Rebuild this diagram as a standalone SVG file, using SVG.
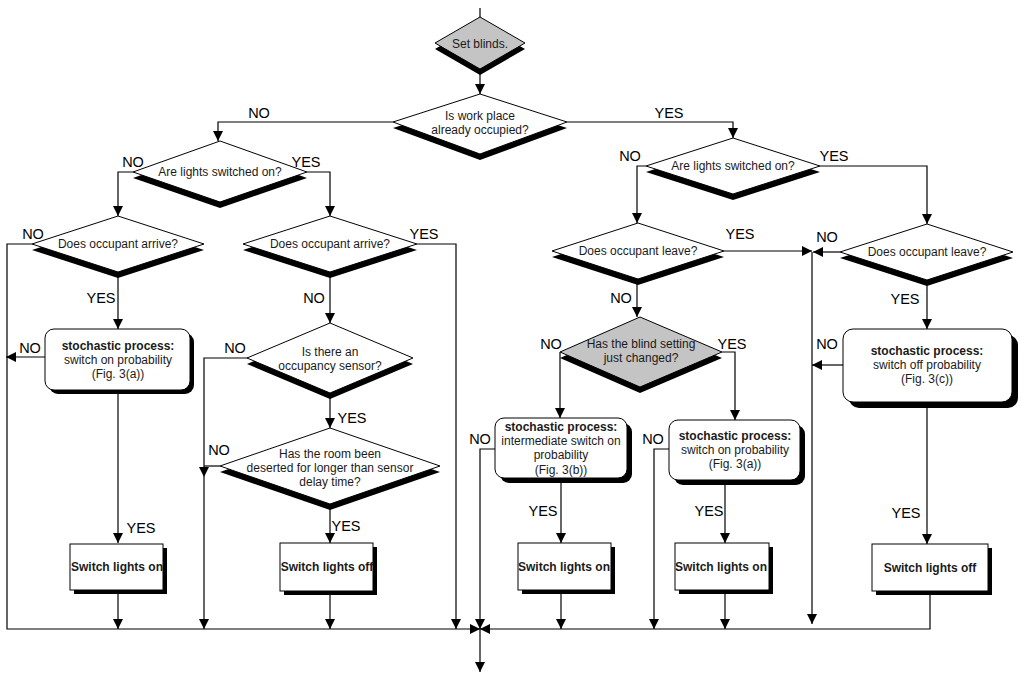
<svg xmlns="http://www.w3.org/2000/svg" width="1022" height="679" viewBox="0 0 1022 679">
<style>
.bg{fill:#ffffff}
.dia{fill:#ffffff;stroke:#000;stroke-width:1}
.gray{fill:#c4c4c4;stroke:#000;stroke-width:1}
.sh{fill:#000;stroke:none}
.box{fill:#ffffff;stroke:#000;stroke-width:1}
.t{font-family:"Liberation Sans",Arial,sans-serif;font-size:12px;fill:#1a1a1a;text-anchor:middle}
.b{font-weight:bold}
.lbl{font-family:"Liberation Sans",Arial,sans-serif;font-size:14.5px;fill:#000;text-anchor:middle}
.c{fill:none;stroke:#000;stroke-width:1.2}
.a{marker-end:url(#ah)}
</style>
<defs>
<marker id="ah" viewBox="0 0 10 10" refX="10" refY="5" markerWidth="10" markerHeight="10" markerUnits="userSpaceOnUse" orient="auto">
<path d="M0,0 L10,5 L0,10 z" fill="#000"/>
</marker>
</defs>
<rect class="bg" x="0" y="0" width="1022" height="679"/>

<g id="connectors">
<path class="c" d="M480,8 V17"/>
<path class="c a" d="M480,69 V94"/>
<path class="c a" d="M393,122 H218 V141"/>
<path class="c a" d="M567,122 H733 V138"/>
<path class="c a" d="M133,172 H118 V216"/>
<path class="c a" d="M307,172 H330 V216"/>
<path class="c a" d="M32,244 H7 V629 H480"/>
<path class="c a" d="M118,272 V329"/>
<path class="c a" d="M45,357 H6"/>
<path class="c a" d="M118,390 V543"/>
<path class="c a" d="M118,590 V629"/>
<path class="c a" d="M417,244 H456 V629"/>
<path class="c a" d="M330,272 V323"/>
<path class="c a" d="M248,358 H204 V477"/>
<path class="c a" d="M204,477 V629"/>
<path class="c" d="M220,466 H204"/>
<path class="c a" d="M330,393 V428"/>
<path class="c a" d="M330,504 V543"/>
<path class="c a" d="M330,591 V629"/>
<path class="c a" d="M646,166 H637 V223"/>
<path class="c a" d="M820,166 H927 V224"/>
<path class="c a" d="M724,251 H812"/>
<path class="c a" d="M840,252 H813"/>
<path class="c a" d="M812,252 V624"/>
<path class="c a" d="M637,279 V317"/>
<path class="c a" d="M560,352 V418"/>
<path class="c a" d="M722,352 H735 V420"/>
<path class="c a" d="M495,449 H480 V629"/>
<path class="c a" d="M561,478 V543"/>
<path class="c a" d="M669,449 H654 V629"/>
<path class="c a" d="M725,480 V543"/>
<path class="c a" d="M561,590 V629"/>
<path class="c a" d="M725,590 V629"/>
<path class="c a" d="M927,280 V329"/>
<path class="c a" d="M843,365 H812"/>
<path class="c a" d="M927,402 V544"/>
<path class="c a" d="M930,591 V629 H480"/>
<path class="c a" d="M480,629 V672"/>
</g>

<g id="labels">
<text class="lbl" x="259" y="118">NO</text>
<text class="lbl" x="669" y="118">YES</text>
<text class="lbl" x="133" y="167">NO</text>
<text class="lbl" x="306" y="167">YES</text>
<text class="lbl" x="33" y="239">NO</text>
<text class="lbl" x="424" y="239">YES</text>
<text class="lbl" x="101" y="303">YES</text>
<text class="lbl" x="314" y="303">NO</text>
<text class="lbl" x="30" y="353">NO</text>
<text class="lbl" x="235" y="353">NO</text>
<text class="lbl" x="352" y="423">YES</text>
<text class="lbl" x="219" y="455">NO</text>
<text class="lbl" x="141" y="533">YES</text>
<text class="lbl" x="346" y="531">YES</text>
<text class="lbl" x="630" y="161">NO</text>
<text class="lbl" x="834" y="161">YES</text>
<text class="lbl" x="740" y="239">YES</text>
<text class="lbl" x="827" y="242">NO</text>
<text class="lbl" x="621" y="303">NO</text>
<text class="lbl" x="905" y="304">YES</text>
<text class="lbl" x="551" y="349">NO</text>
<text class="lbl" x="732" y="349">YES</text>
<text class="lbl" x="827" y="349">NO</text>
<text class="lbl" x="480" y="444">NO</text>
<text class="lbl" x="653" y="444">NO</text>
<text class="lbl" x="543" y="516">YES</text>
<text class="lbl" x="709" y="516">YES</text>
<text class="lbl" x="906" y="518">YES</text>
</g>

<g id="n_set">
<polygon class="sh" points="480,23 525,49 480,75 435,49"/>
<polygon class="gray" points="480,17 525,43 480,69 435,43"/>
<text class="t" x="480" y="48">Set blinds.</text>
</g>

<g id="n_work">
<polygon class="sh" points="480,100 567,128 480,160 393,128"/>
<polygon class="dia" points="480,94 567,122 480,154 393,122"/>
<text class="t" x="480" y="120">Is work place</text>
<text class="t" x="480" y="134">already occupied?</text>
</g>

<g id="n_lightsL">
<polygon class="sh" points="220,147 307,178 220,208 133,178"/>
<polygon class="dia" points="220,141 307,172 220,202 133,172"/>
<text class="t" x="220" y="176">Are lights switched on?</text>
</g>

<g id="n_arriveL">
<polygon class="sh" points="118,222 204,250 118,278 32,250"/>
<polygon class="dia" points="118,216 204,244 118,272 32,244"/>
<text class="t" x="118" y="248">Does occupant arrive?</text>
</g>

<g id="n_arriveR">
<polygon class="sh" points="330,222 417,250 330,278 243,250"/>
<polygon class="dia" points="330,216 417,244 330,272 243,244"/>
<text class="t" x="330" y="248">Does occupant arrive?</text>
</g>

<g id="n_stochL">
<rect class="sh" x="49" y="333" width="145" height="61" rx="9"/>
<rect class="box" x="45" y="329" width="145" height="61" rx="9"/>
<text class="t b" x="118" y="350">stochastic process:</text>
<text class="t" x="118" y="364">switch on probability</text>
<text class="t" x="118" y="378">(Fig. 3(a))</text>
</g>

<g id="n_onL">
<rect class="sh" x="74" y="548" width="93" height="46"/>
<rect class="box" x="70" y="544" width="93" height="46"/>
<text class="t b" x="117" y="571">Switch lights on</text>
</g>

<g id="n_sensor">
<polygon class="sh" points="330,329 413,364 330,399 247,364"/>
<polygon class="dia" points="330,323 413,358 330,393 247,358"/>
<text class="t" x="330" y="356">Is there an</text>
<text class="t" x="330" y="370">occupancy sensor?</text>
</g>

<g id="n_deserted">
<polygon class="sh" points="330,434 440,472 330,510 220,472"/>
<polygon class="dia" points="330,428 440,466 330,504 220,466"/>
<text class="t" x="330" y="458">Has the room been</text>
<text class="t" x="330" y="472">deserted for longer than sensor</text>
<text class="t" x="330" y="486">delay time?</text>
</g>

<g id="n_offL">
<rect class="sh" x="284" y="547" width="93" height="48"/>
<rect class="box" x="280" y="543" width="93" height="48"/>
<text class="t b" x="327" y="571">Switch lights off</text>
</g>

<g id="n_lightsR">
<polygon class="sh" points="733,144 820,172 733,200 646,172"/>
<polygon class="dia" points="733,138 820,166 733,194 646,166"/>
<text class="t" x="733" y="170">Are lights switched on?</text>
</g>

<g id="n_leaveL">
<polygon class="sh" points="638,229 724,257 638,285 552,257"/>
<polygon class="dia" points="638,223 724,251 638,279 552,251"/>
<text class="t" x="638" y="255">Does occupant leave?</text>
</g>

<g id="n_leaveR">
<polygon class="sh" points="927,230 1013,258 927,286 840,258"/>
<polygon class="dia" points="927,224 1013,252 927,280 840,252"/>
<text class="t" x="927" y="256">Does occupant leave?</text>
</g>

<g id="n_blind">
<polygon class="sh" points="640,323 722,358 640,393 560,358"/>
<polygon class="gray" points="640,317 722,352 640,387 560,352"/>
<text class="t" x="641" y="348">Has the blind setting</text>
<text class="t" x="641" y="362">just changed?</text>
</g>

<g id="n_stochMid">
<rect class="sh" x="500" y="423" width="132" height="60" rx="9"/>
<rect class="box" x="495" y="418" width="132" height="60" rx="9"/>
<text class="t b" x="561" y="431">stochastic process:</text>
<text class="t" x="561" y="445">intermediate switch on</text>
<text class="t" x="561" y="459">probability</text>
<text class="t" x="561" y="474">(Fig. 3(b))</text>
</g>

<g id="n_stochOn2">
<rect class="sh" x="674" y="425" width="131" height="60" rx="9"/>
<rect class="box" x="669" y="420" width="131" height="60" rx="9"/>
<text class="t b" x="735" y="440">stochastic process:</text>
<text class="t" x="735" y="454">switch on probability</text>
<text class="t" x="735" y="468">(Fig. 3(a))</text>
</g>

<g id="n_onR1">
<rect class="sh" x="522" y="547" width="93" height="47"/>
<rect class="box" x="518" y="543" width="93" height="47"/>
<text class="t b" x="564" y="571">Switch lights on</text>
</g>

<g id="n_onR2">
<rect class="sh" x="679" y="547" width="94" height="47"/>
<rect class="box" x="675" y="543" width="94" height="47"/>
<text class="t b" x="721" y="571">Switch lights on</text>
</g>

<g id="n_stochOff">
<rect class="sh" x="849" y="335" width="169" height="73" rx="10"/>
<rect class="box" x="843" y="329" width="169" height="73" rx="10"/>
<text class="t b" x="927" y="355">stochastic process:</text>
<text class="t" x="927" y="369">switch off probability</text>
<text class="t" x="927" y="383">(Fig. 3(c))</text>
</g>

<g id="n_offR">
<rect class="sh" x="876" y="548" width="116" height="47"/>
<rect class="box" x="872" y="544" width="116" height="47"/>
<text class="t b" x="930" y="572">Switch lights off</text>
</g>
</svg>
